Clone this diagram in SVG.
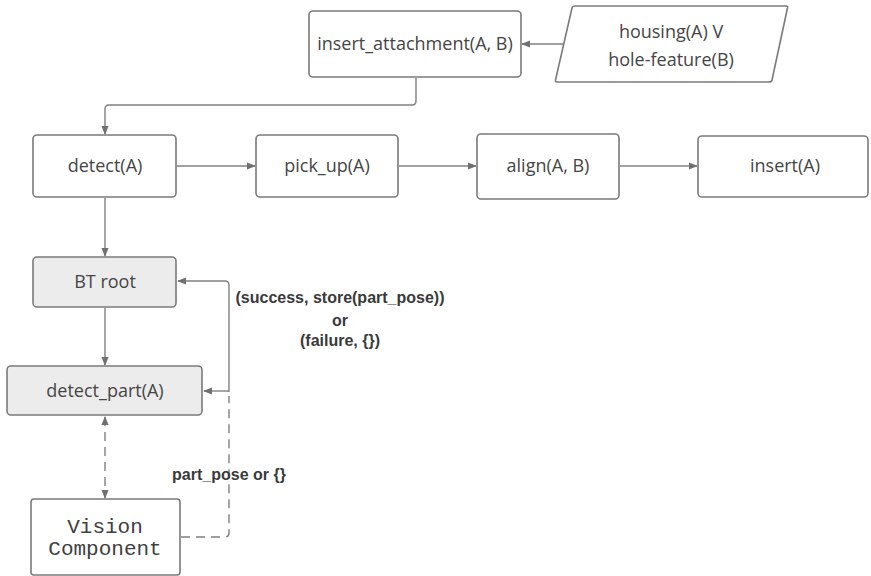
<svg xmlns="http://www.w3.org/2000/svg" width="871" height="576" viewBox="0 0 871 576">
  <style>
    .box { fill: #ffffff; stroke: #7a7a7a; stroke-width: 1.6; }
    .gray { fill: #ececec; }
    .lbl { font-family: "Open Sans", "Liberation Sans", sans-serif; font-size: 18px; fill: #454545; text-anchor: middle; }
    .mono { font-family: "Liberation Mono", "DejaVu Sans Mono", monospace; font-size: 21px; fill: #404040; text-anchor: middle; }
    .edge { fill: none; stroke: #808080; stroke-width: 1.4; }
    .dash { stroke-dasharray: 9 6; }
    .note { font-family: "Liberation Sans", Arial, sans-serif; font-size: 16px; font-weight: bold; fill: #3a3a3a; text-anchor: middle; }
  </style>
  <defs>
    <marker id="arrow" viewBox="0 0 10 10" refX="9" refY="5" markerWidth="9" markerHeight="9" markerUnits="userSpaceOnUse" orient="auto-start-reverse">
      <path d="M0,1 L10,5 L0,9 Z" fill="#707070"/>
    </marker>
  </defs>
  <rect width="871" height="576" fill="#ffffff"/>

  <g id="connectors">
    <path class="edge" d="M563,44 L522,44" marker-end="url(#arrow)"/>
    <path class="edge" d="M416,78 L416,101 Q416,105 412,105 L109,105 Q105,105 105,109 L105,134" marker-end="url(#arrow)"/>
    <path class="edge" d="M177,166 L255,166" marker-end="url(#arrow)"/>
    <path class="edge" d="M399,166 L476,166" marker-end="url(#arrow)"/>
    <path class="edge" d="M620,166 L697,166" marker-end="url(#arrow)"/>
    <path class="edge" d="M105,198 L105,256" marker-end="url(#arrow)"/>
    <path class="edge" d="M105,308 L105,365" marker-end="url(#arrow)"/>
    <path class="edge" d="M229,392 L229,285 Q229,281 225,281 L178,281" marker-end="url(#arrow)"/>
    <path class="edge" d="M229,391 L204,391" marker-end="url(#arrow)"/>
    <path class="edge dash" d="M181,537 L225,537 Q229,537 229,533 L229,396"/>
    <path class="edge dash" d="M105,417 L105,498" marker-start="url(#arrow)" marker-end="url(#arrow)"/>
    <text class="note" x="340" y="303">(success, store(part_pose))</text>
    <text class="note" x="340" y="326">or</text>
    <text class="note" x="340" y="346">(failure, {})</text>
    <text class="note" x="229" y="480">part_pose or {}</text>
  </g>

  <g id="insert_attachment">
    <rect class="box" x="309" y="11" width="212" height="66" rx="4"/>
    <text class="lbl" x="415" y="50">insert_attachment(A, B)</text>
  </g>
  <g id="precondition">
    <path class="box" d="M575,6 L786,6 Q788,6 787.5,8 L772,80 Q771.5,82 769,82 L557,82 Q555,82 555.5,80 L572,8 Q572.5,6 575,6 Z"/>
    <text class="lbl" x="671" y="38">housing(A) V</text>
    <text class="lbl" x="671" y="66">hole-feature(B)</text>
  </g>
  <g id="detect">
    <rect class="box" x="33" y="135" width="143" height="62" rx="4"/>
    <text class="lbl" x="105" y="172">detect(A)</text>
  </g>
  <g id="pick_up">
    <rect class="box" x="256" y="135" width="142" height="62" rx="4"/>
    <text class="lbl" x="327" y="172">pick_up(A)</text>
  </g>
  <g id="align">
    <rect class="box" x="477" y="134" width="142" height="65" rx="4"/>
    <text class="lbl" x="548" y="172">align(A, B)</text>
  </g>
  <g id="insert">
    <rect class="box" x="698" y="136" width="170" height="61" rx="4"/>
    <text class="lbl" x="785" y="172">insert(A)</text>
  </g>
  <g id="bt_root">
    <rect class="box gray" x="33" y="257" width="143" height="50" rx="4"/>
    <text class="lbl" x="105" y="288">BT root</text>
  </g>
  <g id="detect_part">
    <rect class="box gray" x="7" y="366" width="195" height="49" rx="4"/>
    <text class="lbl" x="105" y="397">detect_part(A)</text>
  </g>
  <g id="vision_component">
    <rect class="box" x="31" y="499" width="149" height="76" rx="3"/>
    <text class="mono" x="105" y="533">Vision</text>
    <text class="mono" x="105" y="555">Component</text>
  </g>
</svg>
